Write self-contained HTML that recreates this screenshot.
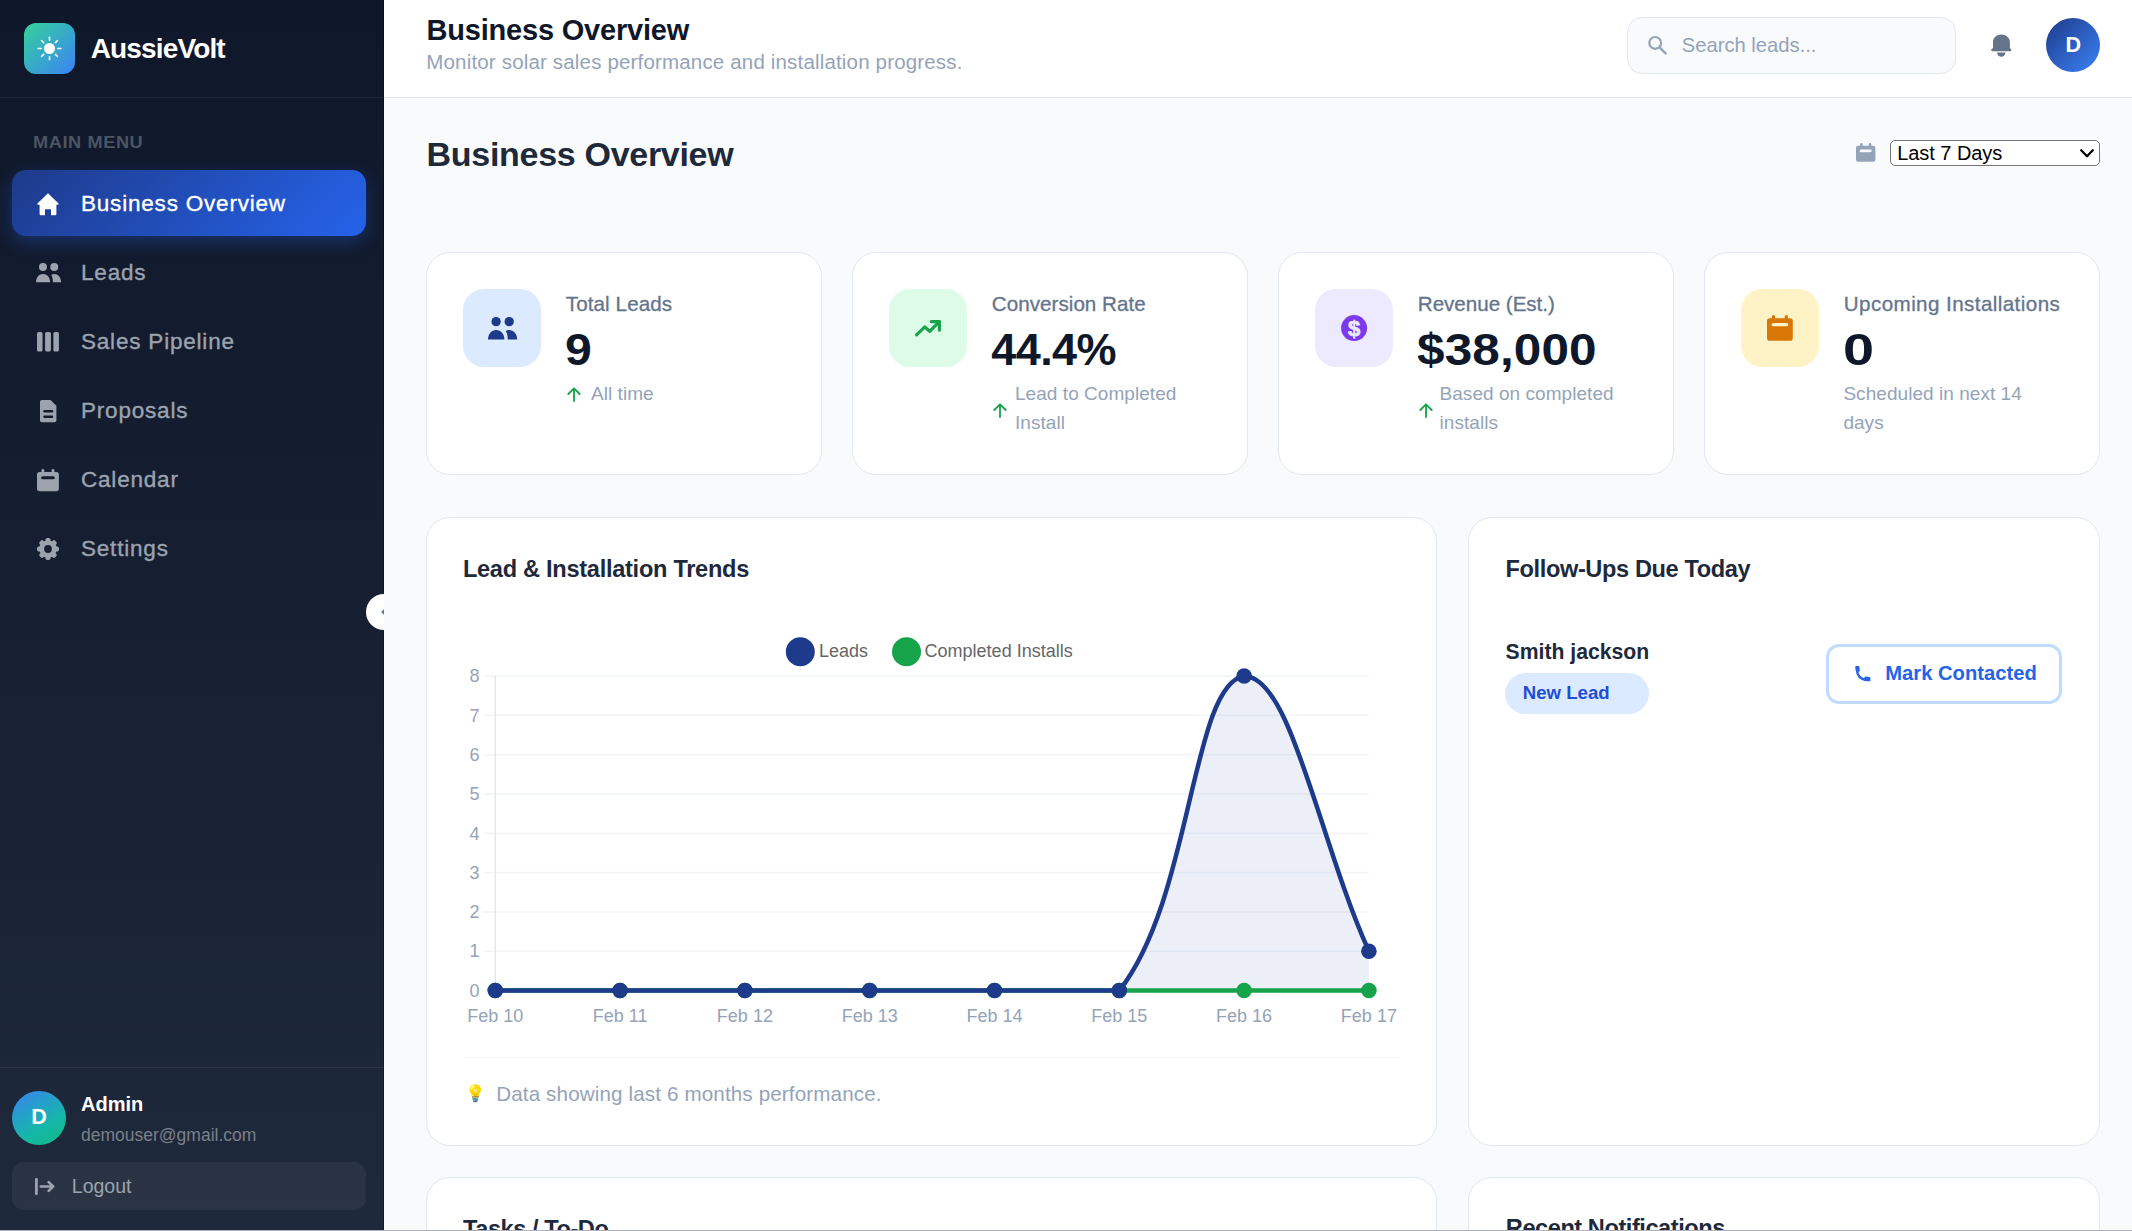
<!DOCTYPE html>
<html lang="en"><head><meta charset="utf-8"><title>AussieVolt - Business Overview</title>
<style>
html,body{margin:0;padding:0;}
body{width:2132px;height:1231px;overflow:hidden;position:relative;background:#f8fafc;font-family:"Liberation Sans", Arial, sans-serif;}
.t{position:absolute;line-height:1;white-space:nowrap;}
#sb{position:absolute;left:0;top:0;width:384px;height:1231px;background:linear-gradient(180deg,#0f172a 0%,#1e293b 100%);box-shadow:inset -1px 0 0 rgba(0,0,0,0.35);}
</style></head><body>
<div id="sb"></div>
<div style="position:absolute;left:24px;top:23px;width:51px;height:51px;border-radius:12px;background:linear-gradient(135deg,#34d399 0%,#3b82f6 100%);"></div>
<svg style="position:absolute;left:24px;top:23px" width="51" height="51" viewBox="0 0 51 51"><circle cx="25.5" cy="25.5" r="5.5" fill="#fff"/><line x1="33.80" y1="25.50" x2="36.80" y2="25.50" stroke="#fff" stroke-width="1.6" stroke-linecap="round"/><line x1="31.37" y1="31.37" x2="33.49" y2="33.49" stroke="#fff" stroke-width="1.6" stroke-linecap="round"/><line x1="25.50" y1="33.80" x2="25.50" y2="36.80" stroke="#fff" stroke-width="1.6" stroke-linecap="round"/><line x1="19.63" y1="31.37" x2="17.51" y2="33.49" stroke="#fff" stroke-width="1.6" stroke-linecap="round"/><line x1="17.20" y1="25.50" x2="14.20" y2="25.50" stroke="#fff" stroke-width="1.6" stroke-linecap="round"/><line x1="19.63" y1="19.63" x2="17.51" y2="17.51" stroke="#fff" stroke-width="1.6" stroke-linecap="round"/><line x1="25.50" y1="17.20" x2="25.50" y2="14.20" stroke="#fff" stroke-width="1.6" stroke-linecap="round"/><line x1="31.37" y1="19.63" x2="33.49" y2="17.51" stroke="#fff" stroke-width="1.6" stroke-linecap="round"/></svg>
<div class="t" style="left:90.70px;top:34.80px;font-size:28px;color:#ffffff;font-weight:700;letter-spacing:-0.85px;">AussieVolt</div>
<div style="position:absolute;left:0px;top:97px;width:384px;height:1px;background:rgba(255,255,255,0.07);"></div>
<div class="t" style="left:33.40px;top:134.03px;font-size:16.5px;color:#4b5563;font-weight:700;letter-spacing:0.55px;transform:scaleX(1.1);transform-origin:0 0;">MAIN MENU</div>
<div style="position:absolute;left:12px;top:170px;width:354px;height:66px;border-radius:14px;background:linear-gradient(135deg,#1e3a8a 0%,#2563eb 100%);box-shadow:0 6px 18px rgba(37,99,235,0.32);"></div>
<div class="t" style="left:81.00px;top:192.55px;font-size:22.5px;color:#ffffff;letter-spacing:0.8px;-webkit-text-stroke:0.35px #ffffff;">Business Overview</div>
<div class="t" style="left:81.00px;top:261.55px;font-size:22.5px;color:#9ca3af;letter-spacing:0.8px;-webkit-text-stroke:0.35px #9ca3af;">Leads</div>
<div class="t" style="left:81.00px;top:330.55px;font-size:22.5px;color:#9ca3af;letter-spacing:0.8px;-webkit-text-stroke:0.35px #9ca3af;">Sales Pipeline</div>
<div class="t" style="left:81.00px;top:399.55px;font-size:22.5px;color:#9ca3af;letter-spacing:0.8px;-webkit-text-stroke:0.35px #9ca3af;">Proposals</div>
<div class="t" style="left:81.00px;top:468.55px;font-size:22.5px;color:#9ca3af;letter-spacing:0.8px;-webkit-text-stroke:0.35px #9ca3af;">Calendar</div>
<div class="t" style="left:81.00px;top:537.55px;font-size:22.5px;color:#9ca3af;letter-spacing:0.8px;-webkit-text-stroke:0.35px #9ca3af;">Settings</div>
<svg style="position:absolute;left:37px;top:192.8px;overflow:visible" width="22" height="22.2" viewBox="0 0 22 22.2"><path d="M11,0.3 L21.6,10.4 Q22.3,11.4 21,11.8 L19.4,11.8 L19.4,21 Q19.4,22.2 18.2,22.2 L14,22.2 L14,16.2 L8,16.2 L8,22.2 L3.8,22.2 Q2.6,22.2 2.6,21 L2.6,11.8 L1,11.8 Q-0.3,11.4 0.4,10.4 Z" fill="#fff"/></svg>
<svg style="position:absolute;left:35.5px;top:262.8px;overflow:visible" width="25.112" height="19.264" viewBox="0 0 25.112 19.264"><g transform="scale(0.86)" fill="#9ca3af"><circle cx="8.1" cy="4.65" r="4.65"/><circle cx="21.2" cy="4.65" r="4.65"/><path d="M0,22.4 C0,17 3.5,12.9 8.2,12.9 C12.9,12.9 16.4,17 16.4,22.4 Z"/><path d="M17.7,14 C19,13.2 20,12.9 21.2,12.9 C25.5,12.9 29.2,17 29.2,22.4 L19.7,22.4 C19.7,18.5 19,16 17.7,14 Z"/></g></svg>
<svg style="position:absolute;left:37px;top:332px;overflow:visible" width="22" height="19.6" viewBox="0 0 22 19.6"><g fill="#9ca3af"><rect x="0" y="0" width="5.5" height="19.6" rx="1.6"/><rect x="8.1" y="0" width="5.8" height="19.6" rx="1.6"/><rect x="16.4" y="0" width="5.5" height="19.6" rx="1.6"/></g></svg>
<svg style="position:absolute;left:39.8px;top:399.7px;overflow:visible" width="16.4" height="22.2" viewBox="0 0 16.4 22.2"><path d="M2,0 L10.6,0 L16.4,5.8 L16.4,20.2 Q16.4,22.2 14.4,22.2 L2,22.2 Q0,22.2 0,20.2 L0,2 Q0,0 2,0 Z" fill="#9ca3af"/><rect x="3.3" y="10" width="10" height="2.4" rx="1.2" fill="#131b2d"/><rect x="3.3" y="15.6" width="10" height="2.4" rx="1.2" fill="#131b2d"/></svg>
<svg style="position:absolute;left:37px;top:468.5px;overflow:visible" width="21.9" height="22.2" viewBox="0 0 21.9 22.2"><g fill="#9ca3af"><rect x="0" y="3" width="21.9" height="19.2" rx="2.6"/><rect x="4.5" y="0" width="2.8" height="5" rx="1.4"/><rect x="14.599999999999998" y="0" width="2.8" height="5" rx="1.4"/></g><rect x="4.1" y="7.3" width="13.7" height="3" rx="1.5" fill="#151d2f"/></svg>
<svg style="position:absolute;left:37px;top:537.8px;overflow:visible" width="22" height="22" viewBox="0 0 22 22"><g fill="#9ca3af"><circle cx="11" cy="11" r="8.7"/><rect x="8.5" y="0" width="5" height="5.5" rx="1.8" transform="rotate(0 11 11)"/><rect x="8.5" y="0" width="5" height="5.5" rx="1.8" transform="rotate(45 11 11)"/><rect x="8.5" y="0" width="5" height="5.5" rx="1.8" transform="rotate(90 11 11)"/><rect x="8.5" y="0" width="5" height="5.5" rx="1.8" transform="rotate(135 11 11)"/><rect x="8.5" y="0" width="5" height="5.5" rx="1.8" transform="rotate(180 11 11)"/><rect x="8.5" y="0" width="5" height="5.5" rx="1.8" transform="rotate(225 11 11)"/><rect x="8.5" y="0" width="5" height="5.5" rx="1.8" transform="rotate(270 11 11)"/><rect x="8.5" y="0" width="5" height="5.5" rx="1.8" transform="rotate(315 11 11)"/></g><circle cx="11" cy="11" r="3.9" fill="#171f31"/></svg>
<div style="position:absolute;left:366px;top:594px;width:36px;height:36px;border-radius:50%;background:#fff;clip-path:inset(0 18px 0 0);"></div>
<svg style="position:absolute;left:380px;top:606px" width="4" height="12"><path d="M4.6,2.6 L1.1,6 L4.6,9.4 Z" fill="#64748b"/></svg>
<div style="position:absolute;left:0px;top:1067px;width:384px;height:1px;background:rgba(255,255,255,0.07);"></div>
<div style="position:absolute;left:12px;top:1091px;width:54px;height:54px;border-radius:50%;background:linear-gradient(150deg,#3b82f6 0%,#14b8a6 65%,#10b981 100%);"></div>
<div class="t" style="left:-161.00px;width:400px;text-align:center;top:1106.80px;font-size:21.5px;color:#fff;font-weight:700;">D</div>
<div class="t" style="left:81.00px;top:1094.17px;font-size:20px;color:#ffffff;font-weight:700;">Admin</div>
<div class="t" style="left:81.00px;top:1126.69px;font-size:17.5px;color:#7b8089;">demouser@gmail.com</div>
<div style="position:absolute;left:12px;top:1162px;width:354px;height:48px;border-radius:12px;background:rgba(255,255,255,0.055);"></div>
<svg style="position:absolute;left:35.2px;top:1177.5px;overflow:visible" width="20" height="17" viewBox="0 0 20 17"><rect x="0" y="0" width="2.8" height="16.9" rx="1.2" fill="#9ca3af"/><path d="M5.8,8.5 L18.2,8.5 M13.6,4.1 L18.2,8.5 L13.6,12.9" stroke="#9ca3af" stroke-width="2.6" fill="none" stroke-linecap="round" stroke-linejoin="round"/></svg>
<div class="t" style="left:71.80px;top:1176.79px;font-size:19.5px;color:#9ca3af;">Logout</div>
<div style="position:absolute;left:384px;top:0px;width:1748px;height:97px;background:#fff;"></div>
<div style="position:absolute;left:384px;top:97px;width:1748px;height:1px;background:#e2e8f0;"></div>
<div class="t" style="left:426.50px;top:15.95px;font-size:29px;color:#0f172a;font-weight:700;letter-spacing:-0.2px;">Business Overview</div>
<div class="t" style="left:426.30px;top:51.95px;font-size:20.5px;color:#94a3b8;letter-spacing:0.17px;">Monitor solar sales performance and installation progress.</div>
<div style="position:absolute;left:1627px;top:17px;width:329px;height:57px;box-sizing:border-box;border:1.5px solid #e2e8f0;border-radius:15px;background:#f8fafc;"></div>
<svg style="position:absolute;left:1648.7px;top:37px;overflow:visible" width="18" height="17" viewBox="0 0 18 17"><circle cx="6.2" cy="5.9" r="5.9" stroke="#94a3b8" stroke-width="2.2" fill="none"/><path d="M10.6,10.3 L16.6,16.4" stroke="#94a3b8" stroke-width="2.4" stroke-linecap="round"/></svg>
<div class="t" style="left:1681.80px;top:35.30px;font-size:20.2px;color:#94a3b8;">Search leads...</div>
<svg style="position:absolute;left:1991px;top:33.7px;overflow:visible" width="20.6" height="23.2" viewBox="0 0 20.6 23.2"><path d="M2,14.2 L2,8.2 C2,3.6 5.6,0.5 10.3,0.5 C15,0.5 18.9,3.6 18.9,8.2 L18.9,14.2 L19.7,14.7 Q20.5,15.3 20.5,16.1 Q20.5,17.2 19.3,17.2 L1.3,17.2 Q0.1,17.2 0.1,16.1 Q0.1,15.3 0.9,14.7 Z" fill="#64748b"/><path d="M6.1,18.6 L14.5,18.6 A4.2,4.2 0 0 1 6.1,18.6 Z" fill="#64748b"/></svg>
<div style="position:absolute;left:2046px;top:18px;width:54px;height:54px;border-radius:50%;background:linear-gradient(135deg,#1e3a8a 0%,#3b82f6 100%);"></div>
<div class="t" style="left:1873.30px;width:400px;text-align:center;top:35.20px;font-size:21.5px;color:#fff;font-weight:700;">D</div>
<div class="t" style="left:426.60px;top:137.02px;font-size:34px;color:#1e293b;font-weight:700;letter-spacing:-0.3px;">Business Overview</div>
<svg style="position:absolute;left:1856.2px;top:143.4px;overflow:visible" width="19.4" height="18.8" viewBox="0 0 19.4 18.8"><g fill="#94a3b8"><rect x="0" y="2.7" width="19.4" height="16.1" rx="2.3400000000000003"/><rect x="4.05" y="0" width="2.52" height="4.5" rx="1.26"/><rect x="12.829999999999998" y="0" width="2.52" height="4.5" rx="1.26"/></g><rect x="3.69" y="6.57" width="12.02" height="2.7" rx="1.35" fill="#f8fafc"/></svg>
<div style="position:absolute;left:1890px;top:140px;width:210px;height:26px;box-sizing:border-box;border:1.5px solid #767676;border-radius:5px;background:#fff;"></div>
<div class="t" style="left:1897.20px;top:142.77px;font-size:20px;color:#000000;letter-spacing:-0.05px;">Last 7 Days</div>
<svg style="position:absolute;left:2080px;top:149px;overflow:visible" width="14" height="9" viewBox="0 0 14 9"><path d="M1.2,1.3 L7,7.2 L12.8,1.3" stroke="#000" stroke-width="2.3" fill="none" stroke-linecap="round" stroke-linejoin="round"/></svg>
<div style="position:absolute;left:426px;top:252px;width:396px;height:223px;box-sizing:border-box;border:1.5px solid #e2e8f0;border-radius:24px;background:#fff;"></div>
<div style="position:absolute;left:463px;top:289px;width:78px;height:78px;border-radius:21px;background:#dbeafe;"></div>
<div class="t" style="left:565.80px;top:293.56px;font-size:20.6px;color:#64748b;letter-spacing:0.1px;-webkit-text-stroke:0.3px #64748b;">Total Leads</div>
<div class="t" style="left:565.30px;top:326.71px;font-size:45px;color:#0f172a;font-weight:700;transform:scaleX(1.07);transform-origin:0 0;">9</div>
<div class="t" style="left:591.00px;top:384.12px;font-size:19px;color:#94a3b8;letter-spacing:0.05px;">All time</div>
<svg style="position:absolute;left:567.0px;top:387px;overflow:visible" width="14" height="15" viewBox="0 0 14 15"><path d="M7,14 L7,1.5 M1.3,7 L7,1.3 L12.7,7" stroke="#16a34a" stroke-width="1.8" fill="none" stroke-linecap="round" stroke-linejoin="round"/></svg>
<div style="position:absolute;left:852px;top:252px;width:396px;height:223px;box-sizing:border-box;border:1.5px solid #e2e8f0;border-radius:24px;background:#fff;"></div>
<div style="position:absolute;left:889px;top:289px;width:78px;height:78px;border-radius:21px;background:#dcfce7;"></div>
<div class="t" style="left:991.80px;top:293.56px;font-size:20.6px;color:#64748b;letter-spacing:0.04px;-webkit-text-stroke:0.3px #64748b;">Conversion Rate</div>
<div class="t" style="left:991.30px;top:326.71px;font-size:45px;color:#0f172a;font-weight:700;letter-spacing:-0.6px;">44.4%</div>
<div class="t" style="left:1015.00px;top:384.12px;font-size:19px;color:#94a3b8;letter-spacing:0.05px;">Lead to Completed</div>
<div class="t" style="left:1015.00px;top:413.12px;font-size:19px;color:#94a3b8;letter-spacing:0.05px;">Install</div>
<svg style="position:absolute;left:993.0px;top:402.6px;overflow:visible" width="14" height="15" viewBox="0 0 14 15"><path d="M7,14 L7,1.5 M1.3,7 L7,1.3 L12.7,7" stroke="#16a34a" stroke-width="1.8" fill="none" stroke-linecap="round" stroke-linejoin="round"/></svg>
<div style="position:absolute;left:1278px;top:252px;width:396px;height:223px;box-sizing:border-box;border:1.5px solid #e2e8f0;border-radius:24px;background:#fff;"></div>
<div style="position:absolute;left:1315px;top:289px;width:78px;height:78px;border-radius:21px;background:#ede9fe;"></div>
<div class="t" style="left:1417.80px;top:293.56px;font-size:20.6px;color:#64748b;letter-spacing:-0.02px;-webkit-text-stroke:0.3px #64748b;">Revenue (Est.)</div>
<div class="t" style="left:1417.30px;top:326.71px;font-size:45px;color:#0f172a;font-weight:700;letter-spacing:0.1px;transform:scaleX(1.1);transform-origin:0 0;">$38,000</div>
<div class="t" style="left:1439.50px;top:384.12px;font-size:19px;color:#94a3b8;letter-spacing:0.05px;">Based on completed</div>
<div class="t" style="left:1439.50px;top:413.12px;font-size:19px;color:#94a3b8;letter-spacing:0.05px;">installs</div>
<svg style="position:absolute;left:1419.0px;top:402.6px;overflow:visible" width="14" height="15" viewBox="0 0 14 15"><path d="M7,14 L7,1.5 M1.3,7 L7,1.3 L12.7,7" stroke="#16a34a" stroke-width="1.8" fill="none" stroke-linecap="round" stroke-linejoin="round"/></svg>
<div style="position:absolute;left:1704px;top:252px;width:396px;height:223px;box-sizing:border-box;border:1.5px solid #e2e8f0;border-radius:24px;background:#fff;"></div>
<div style="position:absolute;left:1741px;top:289px;width:78px;height:78px;border-radius:21px;background:#fef3c7;"></div>
<div class="t" style="left:1843.80px;top:293.56px;font-size:20.6px;color:#64748b;letter-spacing:0.42px;-webkit-text-stroke:0.3px #64748b;">Upcoming Installations</div>
<div class="t" style="left:1843.30px;top:326.71px;font-size:45px;color:#0f172a;font-weight:700;transform:scaleX(1.24);transform-origin:0 0;">0</div>
<div class="t" style="left:1843.40px;top:384.12px;font-size:19px;color:#94a3b8;letter-spacing:0.05px;">Scheduled in next 14</div>
<div class="t" style="left:1843.40px;top:413.12px;font-size:19px;color:#94a3b8;letter-spacing:0.05px;">days</div>
<svg style="position:absolute;left:487.5px;top:317px;overflow:visible" width="29.2" height="22.4" viewBox="0 0 29.2 22.4"><g transform="scale(1.0)" fill="#1e3a8a"><circle cx="8.1" cy="4.65" r="4.65"/><circle cx="21.2" cy="4.65" r="4.65"/><path d="M0,22.4 C0,17 3.5,12.9 8.2,12.9 C12.9,12.9 16.4,17 16.4,22.4 Z"/><path d="M17.7,14 C19,13.2 20,12.9 21.2,12.9 C25.5,12.9 29.2,17 29.2,22.4 L19.7,22.4 C19.7,18.5 19,16 17.7,14 Z"/></g></svg>
<svg style="position:absolute;left:905px;top:305px;overflow:visible" width="45" height="45" viewBox="0 0 45 45"><polyline points="11.6,29.8 19.8,21.9 24.7,26.4 34.4,16.6" stroke="#16a34a" stroke-width="3.1" fill="none" stroke-linecap="round" stroke-linejoin="round"/><polyline points="26.3,16.6 34.4,16.6 34.4,25.2" stroke="#16a34a" stroke-width="3.1" fill="none" stroke-linecap="round" stroke-linejoin="round"/></svg>
<svg style="position:absolute;left:1331px;top:305px;overflow:visible" width="45" height="45" viewBox="0 0 45 45"><circle cx="23.1" cy="23.1" r="13" fill="#7c3aed"/><text x="23.1" y="31.2" text-anchor="middle" font-family="Liberation Sans, Arial, sans-serif" font-weight="700" font-size="22" fill="#ede9fe" stroke="#ede9fe" stroke-width="0.7">$</text></svg>
<svg style="position:absolute;left:1767.2px;top:315.2px;overflow:visible" width="25.8" height="25.8" viewBox="0 0 25.8 25.8"><g fill="#d97706"><rect x="0" y="3.3000000000000003" width="25.8" height="22.5" rx="2.8600000000000003"/><rect x="4.95" y="0" width="3.08" height="5.5" rx="1.54"/><rect x="17.77" y="0" width="3.08" height="5.5" rx="1.54"/></g><rect x="4.51" y="8.030000000000001" width="16.78" height="3.3000000000000003" rx="1.6500000000000001" fill="#fef3c7"/></svg>
<div style="position:absolute;left:426px;top:517px;width:1011px;height:629px;box-sizing:border-box;border:1.5px solid #e2e8f0;border-radius:24px;background:#fff;"></div>
<div class="t" style="left:462.90px;top:557.52px;font-size:23.6px;color:#1e293b;font-weight:700;letter-spacing:-0.29px;">Lead &amp; Installation Trends</div>
<svg style="position:absolute;left:0;top:0" width="2132" height="1231" viewBox="0 0 2132 1231"><line x1="483.7" y1="990.50" x2="1368.90" y2="990.50" stroke="#f1f5f9" stroke-width="1.5"/><line x1="483.7" y1="951.19" x2="1368.90" y2="951.19" stroke="#f1f5f9" stroke-width="1.5"/><line x1="483.7" y1="911.88" x2="1368.90" y2="911.88" stroke="#f1f5f9" stroke-width="1.5"/><line x1="483.7" y1="872.57" x2="1368.90" y2="872.57" stroke="#f1f5f9" stroke-width="1.5"/><line x1="483.7" y1="833.26" x2="1368.90" y2="833.26" stroke="#f1f5f9" stroke-width="1.5"/><line x1="483.7" y1="793.95" x2="1368.90" y2="793.95" stroke="#f1f5f9" stroke-width="1.5"/><line x1="483.7" y1="754.64" x2="1368.90" y2="754.64" stroke="#f1f5f9" stroke-width="1.5"/><line x1="483.7" y1="715.33" x2="1368.90" y2="715.33" stroke="#f1f5f9" stroke-width="1.5"/><line x1="483.7" y1="676.02" x2="1368.90" y2="676.02" stroke="#f1f5f9" stroke-width="1.5"/><line x1="495.3" y1="676.02" x2="495.3" y2="998.50" stroke="#e5e7eb" stroke-width="1.5"/><path d="M495.30,990.50 C545.22,990.50 570.18,990.50 620.10,990.50 C670.02,990.50 694.98,990.50 744.90,990.50 C794.82,990.50 819.78,990.50 869.70,990.50 C919.62,990.50 944.58,990.50 994.50,990.50 C1044.42,990.50 1092.40,990.50 1119.30,990.50 C1192.24,898.60 1191.36,684.33 1244.10,676.02 C1291.20,676.02 1318.98,841.12 1368.90,951.19 L1368.90,990.50 L495.30,990.50 Z" fill="rgba(30,64,175,0.085)"/><path d="M495.3,990.5 L1368.90,990.5" stroke="#16a34a" stroke-width="4.5" fill="none"/><circle cx="495.30" cy="990.50" r="7.8" fill="#16a34a"/><circle cx="620.10" cy="990.50" r="7.8" fill="#16a34a"/><circle cx="744.90" cy="990.50" r="7.8" fill="#16a34a"/><circle cx="869.70" cy="990.50" r="7.8" fill="#16a34a"/><circle cx="994.50" cy="990.50" r="7.8" fill="#16a34a"/><circle cx="1119.30" cy="990.50" r="7.8" fill="#16a34a"/><circle cx="1244.10" cy="990.50" r="7.8" fill="#16a34a"/><circle cx="1368.90" cy="990.50" r="7.8" fill="#16a34a"/><path d="M495.30,990.50 C545.22,990.50 570.18,990.50 620.10,990.50 C670.02,990.50 694.98,990.50 744.90,990.50 C794.82,990.50 819.78,990.50 869.70,990.50 C919.62,990.50 944.58,990.50 994.50,990.50 C1044.42,990.50 1092.40,990.50 1119.30,990.50 C1192.24,898.60 1191.36,684.33 1244.10,676.02 C1291.20,676.02 1318.98,841.12 1368.90,951.19" stroke="#1e3a8a" stroke-width="4.5" fill="none"/><circle cx="495.30" cy="990.50" r="7.8" fill="#1e3a8a"/><circle cx="620.10" cy="990.50" r="7.8" fill="#1e3a8a"/><circle cx="744.90" cy="990.50" r="7.8" fill="#1e3a8a"/><circle cx="869.70" cy="990.50" r="7.8" fill="#1e3a8a"/><circle cx="994.50" cy="990.50" r="7.8" fill="#1e3a8a"/><circle cx="1119.30" cy="990.50" r="7.8" fill="#1e3a8a"/><circle cx="1244.10" cy="676.02" r="7.8" fill="#1e3a8a"/><circle cx="1368.90" cy="951.19" r="7.8" fill="#1e3a8a"/><circle cx="800.3" cy="651.7" r="14.5" fill="#1e3a8a"/><circle cx="906.5" cy="651.7" r="14.5" fill="#16a34a"/></svg>
<div class="t" style="left:819.00px;top:642.26px;font-size:18px;color:#666666;">Leads</div>
<div class="t" style="left:924.60px;top:642.26px;font-size:18px;color:#666666;">Completed Installs</div>
<div class="t" style="left:79.50px;width:400px;text-align:right;top:981.76px;font-size:18px;color:#94a3b8;">0</div>
<div class="t" style="left:79.50px;width:400px;text-align:right;top:942.45px;font-size:18px;color:#94a3b8;">1</div>
<div class="t" style="left:79.50px;width:400px;text-align:right;top:903.14px;font-size:18px;color:#94a3b8;">2</div>
<div class="t" style="left:79.50px;width:400px;text-align:right;top:863.83px;font-size:18px;color:#94a3b8;">3</div>
<div class="t" style="left:79.50px;width:400px;text-align:right;top:824.52px;font-size:18px;color:#94a3b8;">4</div>
<div class="t" style="left:79.50px;width:400px;text-align:right;top:785.21px;font-size:18px;color:#94a3b8;">5</div>
<div class="t" style="left:79.50px;width:400px;text-align:right;top:745.90px;font-size:18px;color:#94a3b8;">6</div>
<div class="t" style="left:79.50px;width:400px;text-align:right;top:706.59px;font-size:18px;color:#94a3b8;">7</div>
<div class="t" style="left:79.50px;width:400px;text-align:right;top:667.28px;font-size:18px;color:#94a3b8;">8</div>
<div class="t" style="left:295.30px;width:400px;text-align:center;top:1007.46px;font-size:18px;color:#94a3b8;">Feb 10</div>
<div class="t" style="left:420.10px;width:400px;text-align:center;top:1007.46px;font-size:18px;color:#94a3b8;">Feb 11</div>
<div class="t" style="left:544.90px;width:400px;text-align:center;top:1007.46px;font-size:18px;color:#94a3b8;">Feb 12</div>
<div class="t" style="left:669.70px;width:400px;text-align:center;top:1007.46px;font-size:18px;color:#94a3b8;">Feb 13</div>
<div class="t" style="left:794.50px;width:400px;text-align:center;top:1007.46px;font-size:18px;color:#94a3b8;">Feb 14</div>
<div class="t" style="left:919.30px;width:400px;text-align:center;top:1007.46px;font-size:18px;color:#94a3b8;">Feb 15</div>
<div class="t" style="left:1044.10px;width:400px;text-align:center;top:1007.46px;font-size:18px;color:#94a3b8;">Feb 16</div>
<div class="t" style="left:1168.90px;width:400px;text-align:center;top:1007.46px;font-size:18px;color:#94a3b8;">Feb 17</div>
<div style="position:absolute;left:463px;top:1056.5px;width:937px;height:1px;background:#f1f5f9;"></div>
<div class="t" style="left:465.20px;top:1085.43px;font-size:16.5px;color:#f59e0b;">&#128161;</div>
<div class="t" style="left:496.20px;top:1083.86px;font-size:20.6px;color:#94a3b8;letter-spacing:0.14px;">Data showing last 6 months performance.</div>
<div style="position:absolute;left:1468px;top:517px;width:632px;height:629px;box-sizing:border-box;border:1.5px solid #e2e8f0;border-radius:24px;background:#fff;"></div>
<div class="t" style="left:1505.60px;top:558.22px;font-size:23.6px;color:#1e293b;font-weight:700;letter-spacing:-0.4px;">Follow-Ups Due Today</div>
<div class="t" style="left:1505.60px;top:640.75px;font-size:21.2px;color:#1e293b;font-weight:700;">Smith jackson</div>
<div style="position:absolute;left:1505px;top:673px;width:144px;height:41px;border-radius:21px;background:#dbeafe;"></div>
<div class="t" style="left:1522.80px;top:684.16px;font-size:18.6px;color:#1d4ed8;font-weight:700;">New Lead</div>
<div style="position:absolute;left:1826px;top:644px;width:236px;height:60px;box-sizing:border-box;border:3px solid #bfdbfe;border-radius:13px;background:#fff;"></div>
<svg style="position:absolute;left:1854.8px;top:665.9px;overflow:visible" width="15.5" height="15.3" viewBox="0 0 15.5 15.3"><path d="M2.1,4.2 C2.1,9.6 5.8,13.6 10.8,13.9" stroke="#2563eb" stroke-width="2.5" fill="none"/><path d="M0.2,1 Q0.2,0 1.2,0 L3.4,0 Q4.2,0 4.4,0.8 L4.8,4.4 Q4.8,5.2 4,5.6 L1.2,5.9 Q0.2,3.5 0.2,1 Z" fill="#2563eb"/><path d="M9.4,11.6 Q9.8,10.6 10.6,10.6 L14.4,10.9 Q15.4,11 15.4,12 L15.4,14.2 Q15.4,15.3 14.4,15.3 Q11.8,15.3 9.4,14.4 Z" fill="#2563eb"/></svg>
<div class="t" style="left:1885.30px;top:662.90px;font-size:20.2px;color:#2563eb;font-weight:700;">Mark Contacted</div>
<div style="position:absolute;left:426px;top:1177px;width:1011px;height:200px;box-sizing:border-box;border:1.5px solid #e2e8f0;border-radius:24px;background:#fff;"></div>
<div style="position:absolute;left:1468px;top:1177px;width:632px;height:200px;box-sizing:border-box;border:1.5px solid #e2e8f0;border-radius:24px;background:#fff;"></div>
<div class="t" style="left:463.00px;top:1217.52px;font-size:23.6px;color:#1e293b;font-weight:700;letter-spacing:-0.45px;">Tasks / To-Do</div>
<div class="t" style="left:1505.80px;top:1216.62px;font-size:23.6px;color:#1e293b;font-weight:700;letter-spacing:-0.45px;">Recent Notifications</div>
<div style="position:absolute;left:0px;top:1230px;width:2132px;height:1px;background:#aeb2b8;"></div>
</body></html>
